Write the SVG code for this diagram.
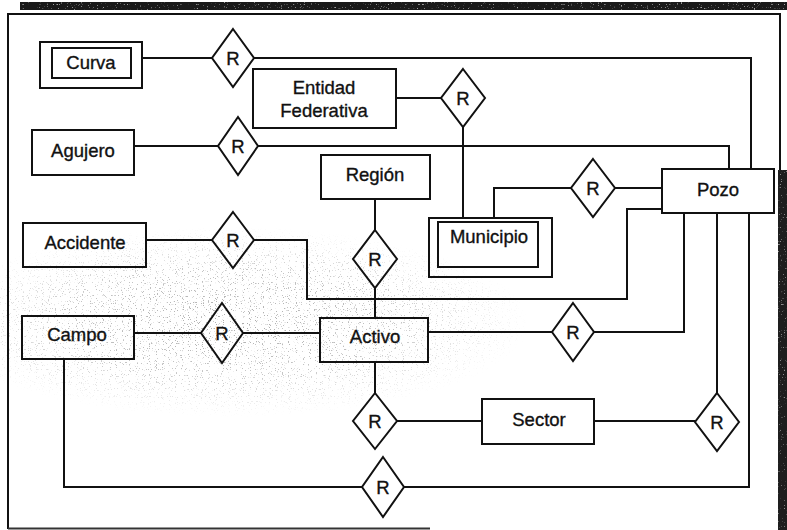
<svg xmlns="http://www.w3.org/2000/svg" width="787" height="530" viewBox="0 0 787 530">
  <style>
    .ent { fill: none; stroke: #111; stroke-width: 2; }
    .rel { fill: none; stroke: #111; stroke-width: 2; stroke-linejoin: miter; }
    .lbl { font-family: "Liberation Sans", Arial, sans-serif; font-size: 18.5px; fill: #111; stroke: #111; stroke-width: 0.35; text-anchor: middle; }
    .wire { fill: none; stroke: #111; stroke-width: 2; }
  </style>
  <defs>
    <filter id="grain" x="0" y="0" width="100%" height="100%">
      <feTurbulence type="fractalNoise" baseFrequency="0.85" numOctaves="1" seed="7" result="n"/>
      <feColorMatrix in="n" type="matrix" values="0 0 0 0 0.4  0 0 0 0 0.4  0 0 0 0 0.4  14 0 0 0 -8.7"/>
    </filter>
    <radialGradient id="fade" cx="230" cy="322" r="1" gradientUnits="userSpaceOnUse" gradientTransform="translate(230 322) scale(300 95) translate(-230 -322)">
      <stop offset="0" stop-color="#fff" stop-opacity="1"/>
      <stop offset="0.55" stop-color="#fff" stop-opacity="0.7"/>
      <stop offset="1" stop-color="#fff" stop-opacity="0"/>
    </radialGradient>
    <mask id="grainArea">
      <rect width="787" height="530" fill="url(#fade)"/>
    </mask>
    <filter id="edgeNoise" x="0" y="0" width="100%" height="100%">
      <feTurbulence type="fractalNoise" baseFrequency="0.7" numOctaves="1" seed="2" result="n"/>
      <feColorMatrix in="n" type="matrix" values="0 0 0 0 1  0 0 0 0 1  0 0 0 0 1  10 0 0 0 -6.5"/>
    </filter>
  </defs>

  <rect width="787" height="530" fill="#fff"/>

  <!-- scanned paper grain in the middle band -->
  <g mask="url(#grainArea)">
    <rect width="787" height="530" filter="url(#grain)"/>
  </g>

  <!-- page frame and dark scan edges -->
  <g id="frame">
    <rect x="20" y="2" width="767" height="8" fill="#1a1a1a"/>
    <rect x="20" y="2" width="767" height="8" filter="url(#edgeNoise)" opacity="0.6"/>
    <rect x="778" y="170" width="9" height="360" fill="#1e1e1e"/>
    <rect x="778" y="170" width="9" height="360" filter="url(#edgeNoise)" opacity="0.5"/>
    <polyline class="wire" points="8,529 8,14 780,14 780,170"/>
    <line x1="8" y1="528.5" x2="430" y2="528.5" stroke="#333" stroke-width="2"/>
  </g>

  <!-- relationship lines -->
  <g id="connectors">
    <polyline class="wire" points="142,58 212,58"/>
    <polyline class="wire" points="254,58 751,58 751,169"/>
    <polyline class="wire" points="396,98 441,98"/>
    <polyline class="wire" points="463,127 463,218"/>
    <polyline class="wire" points="134,146 218,146"/>
    <polyline class="wire" points="258,146 729,146 729,169"/>
    <polyline class="wire" points="615,188 662,188"/>
    <polyline class="wire" points="571,188 494,188 494,218"/>
    <polyline class="wire" points="146,240 212,240"/>
    <polyline class="wire" points="254,240 307,240 307,299 627,299 627,209 662,209"/>
    <polyline class="wire" points="375,199 375,230"/>
    <polyline class="wire" points="375,288 375,318"/>
    <polyline class="wire" points="134,333 201,333"/>
    <polyline class="wire" points="243,333 320,333"/>
    <polyline class="wire" points="428,332 552,332"/>
    <polyline class="wire" points="594,332 684,332 684,213"/>
    <polyline class="wire" points="375,362 375,393"/>
    <polyline class="wire" points="397,421 482,421"/>
    <polyline class="wire" points="594,421 695,421"/>
    <polyline class="wire" points="717,213 717,393"/>
    <polyline class="wire" points="64,359 64,487 362,487"/>
    <polyline class="wire" points="404,487 749,487 749,213"/>
  </g>

  <!-- entities -->
  <g id="curva">
    <rect class="ent" x="40" y="42" width="102" height="46"/>
    <rect class="ent" x="52" y="48" width="79" height="30"/>
    <text class="lbl" x="91" y="69">Curva</text>
  </g>
  <g id="entidad-federativa">
    <rect class="ent" x="253" y="69" width="143" height="59"/>
    <text class="lbl" x="324" y="94">Entidad</text>
    <text class="lbl" x="324" y="117">Federativa</text>
  </g>
  <g id="agujero">
    <rect class="ent" x="32" y="130" width="102" height="45"/>
    <text class="lbl" x="83" y="157">Agujero</text>
  </g>
  <g id="region">
    <rect class="ent" x="321" y="155" width="109" height="44"/>
    <text class="lbl" x="375" y="181">Región</text>
  </g>
  <g id="pozo">
    <rect class="ent" x="662" y="169" width="112" height="44"/>
    <text class="lbl" x="718" y="196">Pozo</text>
  </g>
  <g id="municipio">
    <rect class="ent" x="429" y="218" width="123" height="59"/>
    <rect class="ent" x="438" y="222" width="100" height="45"/>
    <text class="lbl" x="489" y="243">Municipio</text>
  </g>
  <g id="accidente">
    <rect class="ent" x="23" y="223" width="123" height="44"/>
    <text class="lbl" x="85" y="249">Accidente</text>
  </g>
  <g id="campo">
    <rect class="ent" x="22" y="316" width="112" height="43"/>
    <text class="lbl" x="77" y="341">Campo</text>
  </g>
  <g id="activo">
    <rect class="ent" x="320" y="318" width="108" height="44"/>
    <text class="lbl" x="375" y="343">Activo</text>
  </g>
  <g id="sector">
    <rect class="ent" x="482" y="399" width="112" height="45"/>
    <text class="lbl" x="539" y="426">Sector</text>
  </g>

  <!-- relationships -->
  <g id="rel-curva-pozo">
    <polygon class="rel" points="233,29 254,58 233,87 212,58"/>
    <text class="lbl" x="233" y="65">R</text>
  </g>
  <g id="rel-entidad-municipio">
    <polygon class="rel" points="463,69 485,98 463,127 441,98"/>
    <text class="lbl" x="463" y="105">R</text>
  </g>
  <g id="rel-agujero-pozo">
    <polygon class="rel" points="238,117 258,146 238,175 218,146"/>
    <text class="lbl" x="238" y="153">R</text>
  </g>
  <g id="rel-municipio-pozo">
    <polygon class="rel" points="593,159 615,188 593,217 571,188"/>
    <text class="lbl" x="593" y="195">R</text>
  </g>
  <g id="rel-accidente-pozo">
    <polygon class="rel" points="233,212 254,240 233,268 212,240"/>
    <text class="lbl" x="233" y="247">R</text>
  </g>
  <g id="rel-region-activo">
    <polygon class="rel" points="375,230 397,259 375,288 353,259"/>
    <text class="lbl" x="375" y="266">R</text>
  </g>
  <g id="rel-campo-activo">
    <polygon class="rel" points="222,303 243,333 222,363 201,333"/>
    <text class="lbl" x="222" y="340">R</text>
  </g>
  <g id="rel-activo-pozo">
    <polygon class="rel" points="573,303 594,332 573,361 552,332"/>
    <text class="lbl" x="573" y="339">R</text>
  </g>
  <g id="rel-activo-sector">
    <polygon class="rel" points="375,393 397,421 375,449 353,421"/>
    <text class="lbl" x="375" y="428">R</text>
  </g>
  <g id="rel-sector-pozo">
    <polygon class="rel" points="717,393 739,422 717,451 695,422"/>
    <text class="lbl" x="717" y="429">R</text>
  </g>
  <g id="rel-campo-pozo">
    <polygon class="rel" points="383,457 404,487 383,517 362,487"/>
    <text class="lbl" x="383" y="494">R</text>
  </g>
</svg>
